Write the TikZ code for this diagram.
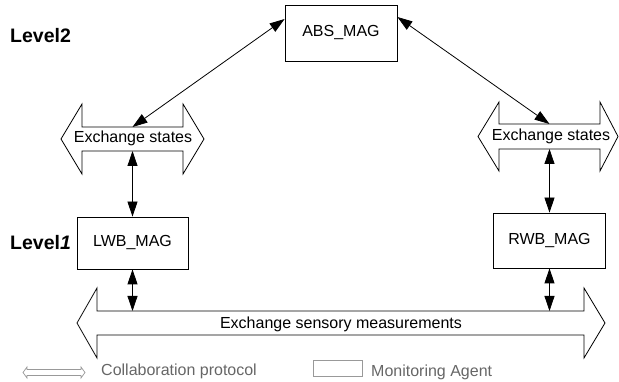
\documentclass[tikz,border=0pt]{standalone}
\usepackage{fontspec}
\setmainfont{Liberation Sans}
\usetikzlibrary{arrows.meta}
\begin{document}
\begin{tikzpicture}[x=1pt,y=-1pt,
  every node/.style={font=\fontsize{16}{19}\selectfont},
  agent/.style={draw, line width=0.8pt, minimum width=112pt, minimum height=56pt, inner sep=0pt},
  proto/.style={draw, line width=0.8pt, fill=white, line join=miter},
  link/.style={line width=0.8pt, {Triangle[length=15pt,width=10pt]}-{Triangle[length=15pt,width=10pt]}},
  lbl/.style={inner sep=0pt, anchor=base},
  level/.style={inner sep=0pt, anchor=base west, font=\fontsize{19.5}{22}\selectfont\bfseries},
  legtext/.style={inner sep=0pt, anchor=base west, text=black!60},
  leg/.style={draw=black!40, line width=0.7pt}
]
\useasboundingbox (0,0) rectangle (619,382);

% collaboration protocols
\draw[proto] (61,139) -- (82,104) -- (82,127) -- (183,127) -- (183,104) -- (204,139)
  -- (183,174) -- (183,151) -- (82,151) -- (82,174) -- cycle;
\node[lbl] (exl) at (133,143) {Exchange states};
\coordinate (exlt) at (132.5,127);
\coordinate (exlb) at (132.5,151);

\draw[proto] (478,136.5) -- (499,102) -- (499,124) -- (600,124) -- (600,102) -- (618,136.5)
  -- (600,171) -- (600,149) -- (499,149) -- (499,171) -- cycle;
\node[lbl] (exr) at (551,141) {Exchange states};
\coordinate (exrt) at (549.5,124);
\coordinate (exrb) at (549.5,149);

\draw[proto] (77,323) -- (97,288) -- (97,311) -- (584,311) -- (584,288) -- (605,323)
  -- (584,358) -- (584,335) -- (97,335) -- (97,358) -- cycle;
\node[lbl] (meas) at (341,328) {Exchange sensory measurements};
\coordinate (ml) at (132.5,311);
\coordinate (mr) at (549.5,311);

% monitoring agents
\node[agent] (abs) at (341,33) {ABS\_MAG};
\node[agent, minimum width=111pt, minimum height=52pt] (lwb) at (132.5,243) {LWB\_MAG};
\node[agent, minimum width=112pt, minimum height=55pt] (rwb) at (549.5,240.5) {RWB\_MAG};

% links
\draw[link] ([yshift=14pt]abs.west) -- (exlt);
\draw[link] ([yshift=16pt]abs.east) -- (exrt);
\draw[link] (exlb) -- (lwb.north);
\draw[link] (lwb.south) -- (ml);
\draw[link] (exrb) -- (rwb.north);
\draw[link] (rwb.south) -- (mr);

% levels
\node[level] (l2) at (10,43) {Level2};
\node[level] (l1) at (10,250) {Level\textit{1}};

% legend
\draw[leg] (23,372.5) -- (27,367) -- (27,369.5) -- (81,369.5) -- (81,367) -- (85,372.5)
  -- (81,378) -- (81,375.5) -- (27,375.5) -- (27,378) -- cycle;
\node[legtext] (lp) at (101,375) {Collaboration protocol};
\node[draw=black!40, line width=0.7pt, minimum width=49pt, minimum height=16pt, inner sep=0pt] (la) at (337.5,368.5) {};
\node[legtext] (lm) at (371,377) {Monitoring Agent};
\end{tikzpicture}
\end{document}
